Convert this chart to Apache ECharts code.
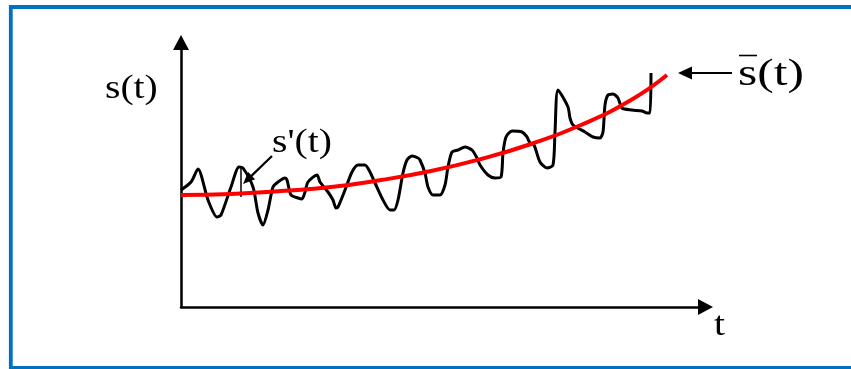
<!DOCTYPE html>
<html><head><meta charset="utf-8">
<script src="https://cdn.jsdelivr.net/npm/echarts@6/dist/echarts.min.js"></script>
<style>html,body{margin:0;padding:0;background:#fff}#c{width:851px;height:369px}</style>
</head><body><div id="c"></div>
<script>
// signal s'(t): readings (arbitrary units)
const signalT = [0,10,17,27,36,40,50,58,62,72,77,82,87,92,97,104,106,110,117,121,124,127,136,139,147,152,155,157,164,171,177,184,189,194,202,209,213,217,222,226,231,237,239,244,247,252,259,264,267,271,277,284,291,296,299,307,314,320,322,325,331,341,346,349,353,359,366,372,374,377,387,389,392,404,412,419,422,424,427,432,437,441,451,461,466,469,470];
const signalS = [117,125,138,107,90,92,120,140,139,120,94,82,97,120,125,129,127,112,109,108,115,125,132,125,115,107,99,100,117,135,142,142,135,124,107,97,97,107,134,147,151,149,147,134,120,112,112,122,140,155,157,160,157,149,142,132,129,130,154,170,176,175,170,164,162,145,139,142,175,217,200,189,182,175,170,169,175,202,212,213,209,199,197,196,194,194,234];
// trend s-bar(t)
const trendT = [0,50,100,150,200,250,300,350,400,450,486];
const trendS = [112,113,116,120,127,136,148,163,182,207,232];
// small vertical mark inside the signal
const markT = [60,60];
const markS = [140,110];
// axis extents (data units)
const tMax = 524.5, sMax = 264.5;

const zip = (a,b)=>a.map((v,i)=>[v,b[i]]);
const chart = echarts.init(document.getElementById('c'), null, {renderer:'canvas'});
const axisLineCommon = {show:true, onZero:false, symbol:['none','triangle'], symbolSize:[16,15], lineStyle:{color:'#000', width:2.5}};
chart.setOption({
  animation:false,
  backgroundColor:'#fff',
  grid:{left:181, right:145.5, top:42.5, bottom:62, containLabel:false},
  xAxis:{type:'value', min:0, max:tMax, axisLine:axisLineCommon, axisTick:{show:false}, axisLabel:{show:false}, splitLine:{show:false}},
  yAxis:{type:'value', min:0, max:sMax, axisLine:axisLineCommon, axisTick:{show:false}, axisLabel:{show:false}, splitLine:{show:false}},
  series:[
    {type:'line', data:zip(signalT,signalS), smooth:0.25, showSymbol:false, lineStyle:{color:'#000', width:3}, z:2},
    {type:'line', data:zip(markT,markS), showSymbol:false, lineStyle:{color:'#000', width:1.5}, z:2},
    {type:'line', data:zip(trendT,trendS), smooth:true, showSymbol:false, lineStyle:{color:'#ff0000', width:4}, z:3}
  ]
});

// annotations
function arrow(from, tip, len, hw, lw){
  const dx = tip[0]-from[0], dy = tip[1]-from[1], L = Math.hypot(dx,dy);
  const ux = dx/L, uy = dy/L, nx = -uy, ny = ux;
  const bx = tip[0]-ux*len, by = tip[1]-uy*len;
  return [
    {type:'line', shape:{x1:from[0], y1:from[1], x2:bx+ux*1, y2:by+uy*1}, style:{stroke:'#000', lineWidth:lw}},
    {type:'polygon', shape:{points:[tip,[bx+nx*hw,by+ny*hw],[bx-nx*hw,by-ny*hw]]}, style:{fill:'#000'}}
  ];
}
const p = (t,s)=>chart.convertToPixel({gridIndex:0}, [t,s]);
const FF = "'Liberation Serif', 'Times New Roman', Tinos, Times, serif";
const txt = (x,y,text,size,sx)=>({type:'text', x:x, y:y, scaleX:sx, scaleY:1, style:{text:text, x:0, y:0, fill:'#000', fontFamily:FF, fontSize:size, align:'left', verticalAlign:'middle'}});

const sPrimeArrow = arrow(p(91,151), p(62,123), 12, 5, 2.2);
const sBarArrow = arrow(p(551,234), p(497,234), 14, 6.5, 2.2);
chart.setOption({graphic:[
  {type:'rect', shape:{x:10.8, y:7, width:1000, height:361}, style:{fill:'none', stroke:'#0070c0', lineWidth:3.8}},
  txt(105, 89, 's(t)', 33, 1.2),
  txt(272, 143, "s'(t)", 33, 1.2),
  txt(738, 75, 's(t)', 38, 1.3),
  {type:'line', shape:{x1:739, y1:55.5, x2:757, y2:55.5}, style:{stroke:'#000', lineWidth:1.6}},
  txt(714, 326, 't', 33, 1.2),
  ...sPrimeArrow,
  ...sBarArrow
]});
</script>
</body></html>
